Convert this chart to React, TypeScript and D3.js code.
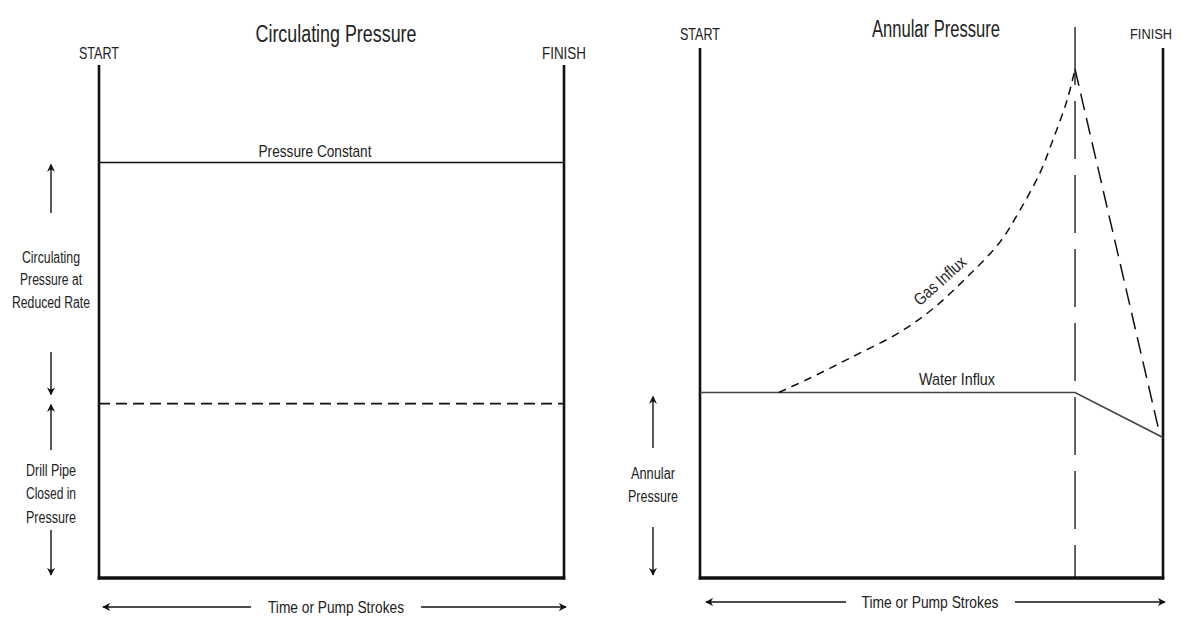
import React from "react";
import * as d3 from "d3";

// ---- Data (domain units: x = % of time/pump strokes, y = % of panel height as pressure) ----
const circulatingConstant = [
  { x: 0, y: 81 },
  { x: 100, y: 81 },
];
const drillPipeClosedIn = [
  { x: 0, y: 34 },
  { x: 100, y: 34 },
];
const waterInflux = [
  { x: 0, y: 35 },
  { x: 81, y: 35 },
  { x: 100, y: 26.5 },
];
const gasInfluxRise = [
  { x: 17, y: 35 },
  { x: 23, y: 37.4 },
  { x: 32.4, y: 41.5 },
  { x: 43.2, y: 46.4 },
  { x: 50.3, y: 50.8 },
  { x: 57.7, y: 56.8 },
  { x: 64.8, y: 63.4 },
  { x: 69.1, y: 69.4 },
  { x: 73.4, y: 76.4 },
  { x: 76.2, y: 82.6 },
  { x: 79.3, y: 90.2 },
  { x: 81, y: 96 },
];
const gasInfluxFall = [
  { x: 81, y: 96 },
  { x: 99.2, y: 27.5 },
];
const bitAtSurfaceX = 81;

const leftTitle = "Circulating Pressure";
const rightTitle = "Annular Pressure";
const startLabel = "START";
const finishLabel = "FINISH";
const xAxisLabel = "Time or Pump Strokes";
const circLabel = ["Circulating", "Pressure at", "Reduced Rate"];
const dpLabel = ["Drill Pipe", "Closed in", "Pressure"];
const annLabel = ["Annular", "Pressure"];

const FONT = "'Liberation Sans', Arial, sans-serif";
const INK = "#111";
const TXT = "#222";

type P = { x: number; y: number };

export default function App() {
  // Left panel scales
  const xL = d3.scaleLinear().domain([0, 100]).range([99, 564]);
  const yL = d3.scaleLinear().domain([0, 100]).range([578, 65]);
  // Right panel scales
  const xR = d3.scaleLinear().domain([0, 100]).range([700, 1163]);
  const yR = d3.scaleLinear().domain([0, 100]).range([578, 48]);

  const lineL = d3
    .line<P>()
    .x((d) => xL(d.x))
    .y((d) => yL(d.y));
  const lineR = d3
    .line<P>()
    .x((d) => xR(d.x))
    .y((d) => yR(d.y));
  const curveR = d3
    .line<P>()
    .x((d) => xR(d.x))
    .y((d) => yR(d.y))
    .curve(d3.curveCatmullRom.alpha(0.5));

  const txt = (
    x: number,
    y: number,
    s: string,
    size: number,
    len?: number,
    extra: any = {}
  ) => (
    <text
      x={x}
      y={y}
      textAnchor="middle"
      dominantBaseline="central"
      fontFamily={FONT}
      fontSize={size}
      fill={TXT}
      textLength={len}
      lengthAdjust={len ? "spacingAndGlyphs" : undefined}
      {...extra}
    >
      {s}
    </text>
  );

  const vArrow = (x: number, y1: number, y2: number) => (
    <line x1={x} y1={y1} x2={x} y2={y2} stroke={INK} strokeWidth={1.4} markerEnd="url(#ah)" />
  );
  const hArrow = (x1: number, x2: number, y: number) => (
    <line x1={x1} y1={y} x2={x2} y2={y} stroke={INK} strokeWidth={1.6} markerEnd="url(#ah)" />
  );

  const yPC = yL(circulatingConstant[0].y);
  const yDP = yL(drillPipeClosedIn[0].y);
  const yW = yR(waterInflux[0].y);

  return (
    <svg
      width={1181}
      height={619}
      style={{ position: "absolute", left: 0, top: 0, background: "#fff" }}
    >
      <defs>
        <marker
          id="ah"
          viewBox="0 0 10 10"
          refX={9}
          refY={5}
          markerWidth={8}
          markerHeight={8}
          markerUnits="userSpaceOnUse"
          orient="auto"
        >
          <path d="M0,0 L10,5 L0,10 L3,5 Z" fill={INK} />
        </marker>
      </defs>

      {/* ---------- LEFT PANEL ---------- */}
      {txt(336, 34, leftTitle, 23, 161)}
      {txt(xL(0), 53, startLabel, 17, 40)}
      {txt(xL(100), 53, finishLabel, 17, 44)}

      <line x1={xL(0)} y1={yL(100)} x2={xL(0)} y2={yL(0) + 1.5} stroke={INK} strokeWidth={2.6} />
      <line x1={xL(100)} y1={yL(100)} x2={xL(100)} y2={yL(0) + 1.5} stroke={INK} strokeWidth={2.6} />
      <line x1={xL(0) - 1.3} y1={yL(0)} x2={xL(100) + 1.3} y2={yL(0)} stroke={INK} strokeWidth={3.4} />

      <path d={lineL(circulatingConstant) || ""} fill="none" stroke={INK} strokeWidth={1.6} />
      {txt(315, yPC - 11, "Pressure Constant", 17, 113)}
      <path
        d={lineL(drillPipeClosedIn) || ""}
        fill="none"
        stroke={INK}
        strokeWidth={1.6}
        strokeDasharray="11,6"
      />

      {vArrow(51, 213, yPC + 2)}
      {circLabel.map((s, i) => txt(51, 257 + i * 22.5, s, 16, [58, 62, 78][i], { key: "c" + i }))}
      {vArrow(51, 352, yDP - 9)}
      {vArrow(51, 450, yDP + 1)}
      {dpLabel.map((s, i) => txt(51, 470 + i * 23.5, s, 16, [50, 50, 50][i], { key: "d" + i }))}
      {vArrow(51, 530, yL(0) - 3)}

      {hArrow(251, 103, 607)}
      {txt(336, 607, xAxisLabel, 17, 136)}
      {hArrow(421, 566, 607)}

      {/* ---------- RIGHT PANEL ---------- */}
      {txt(936, 29, rightTitle, 23, 128)}
      {txt(xR(0), 34, startLabel, 17, 40)}
      {txt(1151, 33, finishLabel, 15.5, 42)}

      <line x1={xR(0)} y1={yR(100)} x2={xR(0)} y2={yR(0) + 1.5} stroke={INK} strokeWidth={2.6} />
      <line x1={xR(100)} y1={yR(100)} x2={xR(100)} y2={yR(0) + 1.5} stroke={INK} strokeWidth={2.6} />
      <line x1={xR(0) - 1.3} y1={yR(0)} x2={xR(100) + 1.3} y2={yR(0)} stroke={INK} strokeWidth={3.4} />

      <line
        x1={xR(bitAtSurfaceX)}
        y1={27}
        x2={xR(bitAtSurfaceX)}
        y2={yR(0)}
        stroke={INK}
        strokeWidth={1.3}
        strokeDasharray="58,16"
      />

      <path d={lineR(waterInflux) || ""} fill="none" stroke="#444" strokeWidth={1.7} />
      {txt(957, yW - 13, "Water Influx", 17, 76)}

      <path
        d={curveR(gasInfluxRise) || ""}
        fill="none"
        stroke={INK}
        strokeWidth={1.5}
        strokeDasharray="8,6"
      />
      <path
        d={lineR(gasInfluxFall) || ""}
        fill="none"
        stroke={INK}
        strokeWidth={1.5}
        strokeDasharray="17,8"
      />
      {txt(940, 281, "Gas Influx", 17, 64, { transform: "rotate(-42 940 281)" })}

      {vArrow(653, 448, yW + 4)}
      {annLabel.map((s, i) => txt(653, 473 + i * 23, s, 16, [44, 50][i], { key: "a" + i }))}
      {vArrow(653, 527, yR(0) - 3)}

      {hArrow(846, 706, 602)}
      {txt(930, 602, xAxisLabel, 17, 137)}
      {hArrow(1015, 1165, 602)}
    </svg>
  );
}
